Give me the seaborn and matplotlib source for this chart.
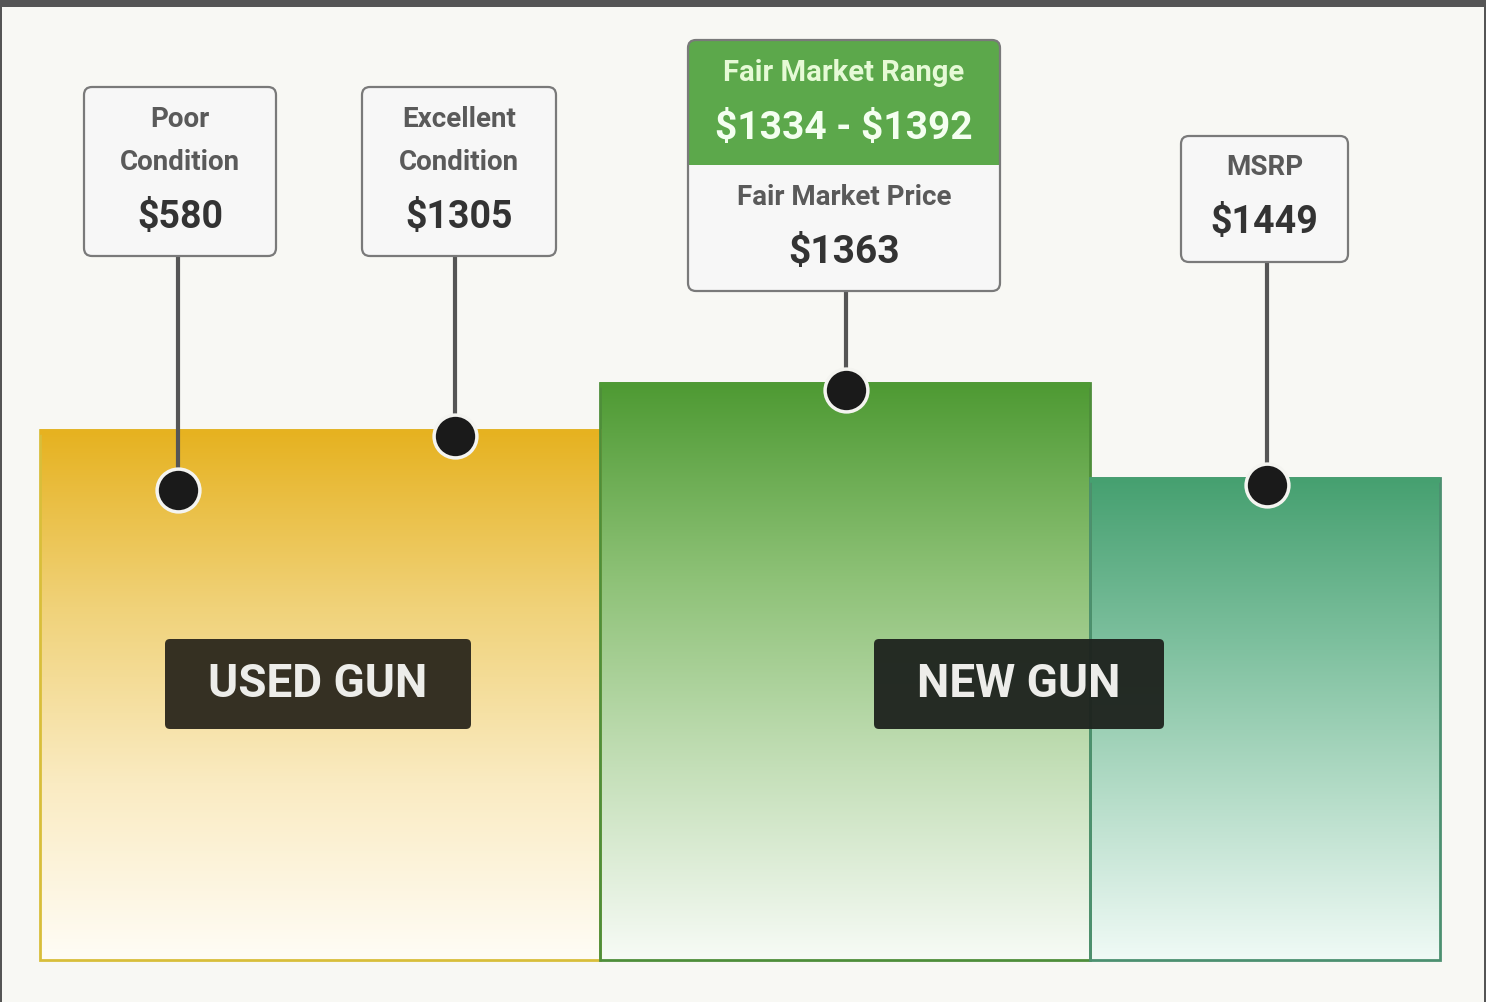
import numpy as np
import matplotlib
matplotlib.use("Agg")
import matplotlib.pyplot as plt
import seaborn as sns
from matplotlib.colors import LinearSegmentedColormap
from matplotlib.patches import FancyBboxPatch, Rectangle

# =====================================
# DATA
# =====================================

segment_names = ["USED GUN", "NEW GUN", "MSRP"]
segment_levels = [530, 577, 482]          # bar heights

callout_titles = ["Poor\nCondition", "Excellent\nCondition", "Fair Market Price", "MSRP"]
callout_prices = [580, 1305, 1363, 1449]
dot_levels = [470, 524, 570, 475]         # where each marker sits on the bars

range_title = "Fair Market Range"
range_low = 1334
range_high = 1392

# =====================================
# LAYOUT / STYLE
# =====================================

W, H = 1486, 1002
BASE = 960  # pixel row of bar bottoms

seg_edges = [(40, 600), (600, 1090), (1090, 1440)]
seg_colors = [
    ["#E6B220", "#F0D279", "#FAEBC2", "#FFFDF6"],
    ["#4E9A33", "#8DC176", "#C4DFB8", "#F7FBF6"],
    ["#46A070", "#7CBF9D", "#B6DDC9", "#F0FAF6"],
]
seg_edgecolors = ["#D8BE3A", "#4E8E3A", "#4C9070"]

# callout boxes in pixel coords (x0, x1, y_top, y_bottom)
boxes = [(84, 276, 87, 256), (362, 556, 87, 256), (688, 1000, 40, 291), (1181, 1348, 136, 262)]
dot_x = [178, 455, 846, 1267]

sns.set_theme(style="white")
plt.rcParams['font.family'] = ['Roboto', 'DejaVu Sans']
plt.rcParams['font.weight'] = 'bold'

fig = plt.figure(figsize=(W / 100, H / 100), dpi=100)
fig.patch.set_facecolor("#F8F8F4")
ax = fig.add_axes([0, 0, 1, 1])
ax.set_xlim(0, W)
ax.set_ylim(BASE - H, BASE)
ax.axis("off")


def py(y):
    # pixel row -> data y
    return BASE - y


# =====================================
# GRADIENT BARS
# =====================================

grad = np.linspace(0, 1, 256).reshape(-1, 1)
for (x0, x1), level, cols, ec in zip(seg_edges, segment_levels, seg_colors, seg_edgecolors):
    cmap = LinearSegmentedColormap.from_list("g", cols[::-1])
    ax.imshow(grad, extent=[x0, x1, 0, level], origin="lower", aspect="auto",
              cmap=cmap, zorder=1, interpolation="bicubic")
    ax.bar(x0, level, width=x1 - x0, align="edge", bottom=0, fill=False,
           edgecolor=ec, linewidth=2, zorder=2)
    ax.plot([x0, x1], [level - 2, level - 2], color=cols[0], lw=4,
            solid_capstyle="butt", zorder=2)

# =====================================
# SEGMENT LABELS
# =====================================

label_boxes = [((165, 471), "#2D291E"), ((874, 1164), "#1F241F")]
for (lx, fc), name in zip(label_boxes, segment_names[:2]):
    ax.add_patch(FancyBboxPatch((lx[0] + 4, py(729) + 4), lx[1] - lx[0] - 8, 90 - 8,
                                boxstyle="round,pad=4,rounding_size=5",
                                facecolor=fc, edgecolor="none", alpha=0.96, zorder=5))
    ax.text((lx[0] + lx[1]) / 2, py(684), name, ha="center", va="center",
            fontsize=33, color="#EDEDEA", zorder=6)

# =====================================
# CALLOUTS
# =====================================

for i, ((x0, x1, yt, yb), title, price) in enumerate(zip(boxes, callout_titles, callout_prices)):
    cx = (x0 + x1) / 2
    # connector
    ax.plot([dot_x[i], dot_x[i]], [py(yb), dot_levels[i]], color="#555555", lw=3, zorder=3)
    ax.add_patch(FancyBboxPatch((x0, py(yb)), x1 - x0, yb - yt,
                                boxstyle="round,pad=0,rounding_size=8",
                                facecolor="#F7F7F7", edgecolor="none", zorder=4))
    if i == 2:
        ax.add_patch(FancyBboxPatch((x0, py(165)), x1 - x0, 165 - yt,
                                    boxstyle="round,pad=0,rounding_size=8",
                                    facecolor="#5CA84B", edgecolor="none", zorder=4))
        ax.add_patch(Rectangle((x0, py(165)), x1 - x0, 20, facecolor="#5CA84B",
                               edgecolor="none", zorder=4))
        ax.text(cx, py(73), range_title, ha="center", va="center",
                fontsize=21, color="#E6FAD6", zorder=6)
        ax.text(cx, py(128), f"\\${range_low} - \\${range_high}", ha="center", va="center",
                fontsize=28, color="#F4FFF0", zorder=6)
        ax.text(cx, py(197), title, ha="center", va="center",
                fontsize=20, color="#5A5A5A", zorder=6)
        ax.text(cx, py(252), f"${price}", ha="center", va="center",
                fontsize=28, color="#333333", zorder=6)
    elif i == 3:
        ax.text(cx, py(167), title, ha="center", va="center",
                fontsize=20, color="#5A5A5A", zorder=6)
        ax.text(cx, py(222), f"${price}", ha="center", va="center",
                fontsize=27, color="#333333", zorder=6)
    else:
        ax.text(cx, py(141), title, ha="center", va="center", linespacing=1.75,
                fontsize=20, color="#5A5A5A", zorder=6)
        ax.text(cx, py(217), f"${price}", ha="center", va="center",
                fontsize=27, color="#333333", zorder=6)
    ax.add_patch(FancyBboxPatch((x0, py(yb)), x1 - x0, yb - yt,
                                boxstyle="round,pad=0,rounding_size=8",
                                facecolor="none", edgecolor="#7A7A7A", lw=1.6, zorder=7))

# markers on the bars
sns.scatterplot(x=dot_x, y=dot_levels, s=950, color="#1A1A1A",
                edgecolor="#F4F4F0", linewidth=2.5, zorder=8, ax=ax, legend=False)

# =====================================
# FRAME
# =====================================

fig.patches.append(Rectangle((0, 1 - 7 / H), 1, 7 / H, transform=fig.transFigure,
                             facecolor="#555555", edgecolor="none"))
fig.patches.append(Rectangle((0, 0), 2 / W, 1, transform=fig.transFigure,
                             facecolor="#555555", edgecolor="none"))
fig.patches.append(Rectangle((1 - 2 / W, 0), 2 / W, 1, transform=fig.transFigure,
                             facecolor="#555555", edgecolor="none"))

fig.savefig("out.png", dpi=100, facecolor=fig.get_facecolor())
